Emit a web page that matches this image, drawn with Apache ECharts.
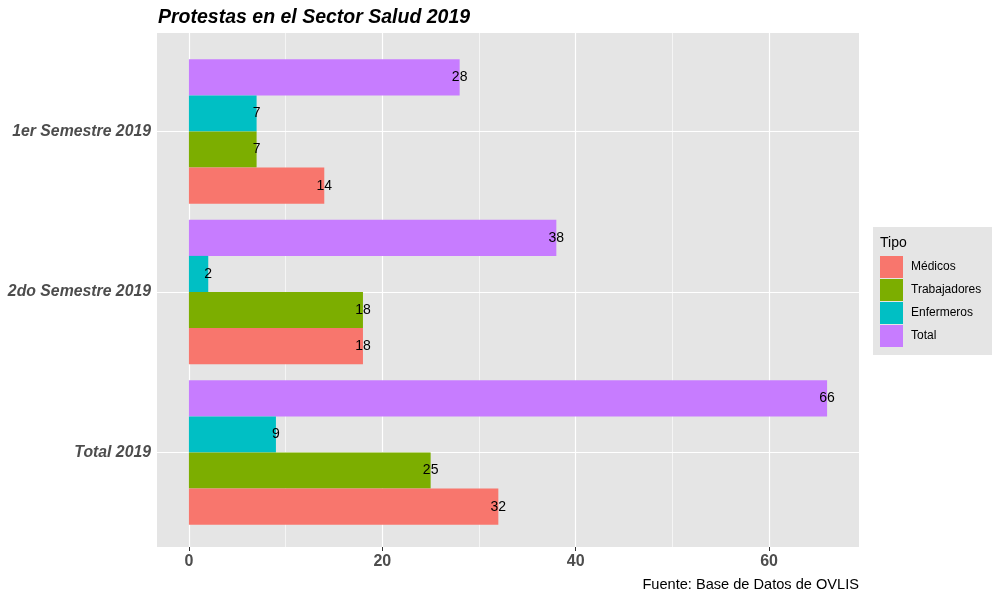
<!DOCTYPE html>
<html>
<head>
<meta charset="utf-8">
<script src="https://cdn.jsdelivr.net/npm/echarts@6/dist/echarts.min.js"></script>
<style>html,body{margin:0;padding:0;background:#fff;}#c{width:1000px;height:600px;}</style>
</head>
<body>
<div id="c"></div>
<script>
var categories = ['1er Semestre 2019', '2do Semestre 2019', 'Total 2019'];
var tipos = ['Médicos', 'Trabajadores', 'Enfermeros', 'Total'];
var medicos = [14, 18, 32];
var trabajadores = [7, 18, 25];
var enfermeros = [7, 2, 9];
var total = [28, 38, 66];
var xTicks = [0, 20, 40, 60];
var xMinor = [10, 30, 50];
var colors = {'Médicos': '#F8766D', 'Trabajadores': '#7CAE00', 'Enfermeros': '#00BFC4', 'Total': '#C77CFF'};

var FONT = 'Liberation Sans, Arial, sans-serif';
var XMIN = -3.3, XMAX = 69.3;

function barSeries(name, data) {
  return {
    name: name, type: 'bar', data: data, xAxisIndex: 0, yAxisIndex: 0,
    barGap: '0%', barCategoryGap: '10%', z: 3,
    itemStyle: {color: colors[name]},
    label: {show: true, position: ['100%', '50%'], align: 'center', verticalAlign: 'middle',
            color: '#000', fontSize: 14, fontFamily: FONT},
    emphasis: {disabled: true}
  };
}

var vLines = [];
xTicks.forEach(function (v) { vLines.push({xAxis: v, lineStyle: {width: 1.2}}); });
xMinor.forEach(function (v) { vLines.push({xAxis: v, lineStyle: {width: 0.6}}); });
var hLines = categories.map(function (c) { return {yAxis: c, lineStyle: {width: 1.2}}; });

var chart = echarts.init(document.getElementById('c'));
chart.setOption({
  animation: false,
  textStyle: {fontFamily: FONT},
  title: [
    {text: 'Protestas en el Sector Salud 2019', left: 158, top: 8, padding: 0,
     textStyle: {fontSize: 19.5, fontWeight: 'bold', fontStyle: 'italic', color: '#000', fontFamily: FONT}},
    {text: 'Fuente: Base de Datos de OVLIS', right: 141, top: 577, padding: 0,
     textStyle: {fontSize: 14.6, fontWeight: 'normal', color: '#000', fontFamily: FONT}},
    {text: 'Tipo', left: 880, top: 236, padding: 0,
     textStyle: {fontSize: 14, fontWeight: 'normal', color: '#000', fontFamily: FONT}}
  ],
  graphic: [
    {type: 'rect', shape: {x: 873, y: 227, width: 119, height: 128}, style: {fill: '#E5E5E5'}, z: -1, silent: true}
  ],
  legend: {
    data: tipos, orient: 'vertical', left: 880, top: 256, padding: 0,
    itemWidth: 23, itemHeight: 22, itemGap: 1, icon: 'rect',
    itemStyle: {borderWidth: 0},
    textStyle: {fontSize: 12, color: '#000', fontFamily: FONT, padding: [4, 0, 0, 3]},
    selectedMode: false
  },
  grid: [
    {left: 157, right: 141, top: 51.25, height: 481.5, containLabel: false},
    {left: 157, right: 141, top: 33, bottom: 53, show: true, backgroundColor: '#E5E5E5', borderWidth: 0, containLabel: false}
  ],
  xAxis: [
    {type: 'value', gridIndex: 0, min: XMIN, max: XMAX, show: false, splitLine: {show: false}},
    {type: 'value', gridIndex: 1, min: XMIN, max: XMAX,
     axisLine: {show: false}, splitLine: {show: false},
     axisTick: {show: true, length: 4, lineStyle: {color: '#333'}, customValues: xTicks},
     axisLabel: {customValues: xTicks, margin: 7, fontSize: 16, fontWeight: 'bold', color: '#4D4D4D', fontFamily: FONT}}
  ],
  yAxis: [
    {type: 'category', gridIndex: 0, data: categories, inverse: true,
     axisLine: {show: false}, splitLine: {show: false},
     axisTick: {show: true, alignWithLabel: true, length: 4, lineStyle: {color: '#333'}},
     axisLabel: {margin: 6, fontSize: 15.8, fontWeight: 'bold', fontStyle: 'italic', color: '#4D4D4D', fontFamily: FONT}},
    {type: 'value', gridIndex: 1, min: 0, max: 1, show: false, splitLine: {show: false}}
  ],
  series: [
    barSeries('Total', total),
    barSeries('Enfermeros', enfermeros),
    barSeries('Trabajadores', trabajadores),
    barSeries('Médicos', medicos),
    {type: 'line', xAxisIndex: 1, yAxisIndex: 1, data: [], z: 1, silent: true,
     markLine: {z: 1, silent: true, symbol: 'none', animation: false, label: {show: false},
                lineStyle: {color: '#fff', type: 'solid'}, data: vLines}},
    {type: 'line', xAxisIndex: 0, yAxisIndex: 0, data: [], z: 1, silent: true,
     markLine: {z: 1, silent: true, symbol: 'none', animation: false, label: {show: false},
                lineStyle: {color: '#fff', type: 'solid'}, data: hLines}}
  ]
});
</script>
</body>
</html>
